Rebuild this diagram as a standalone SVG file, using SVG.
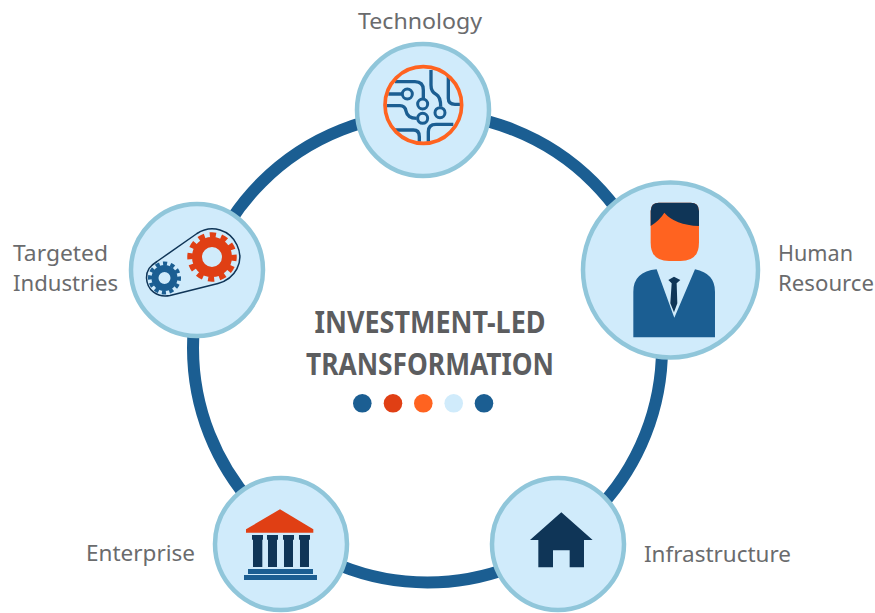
<svg xmlns="http://www.w3.org/2000/svg" width="875" height="613" viewBox="0 0 875 613">
<style>
.n{fill:#d0ebfb;stroke:#90c6da;stroke-width:4.5}
.l{font-family:"Noto Sans","Liberation Sans",sans-serif;font-size:22px;fill:#6a6b6d}
.t{font-family:"Noto Sans","Liberation Sans",sans-serif;font-size:31px;font-weight:700;fill:#5c5d5f;text-anchor:middle}
.tr{fill:none;stroke:#1b5e92;stroke-width:10}
.rg{fill:#d0ebfb;stroke:#1b5e92;stroke-width:9}
</style>
<rect width="875" height="613" fill="#fff"/>
<g id="connectors"><circle cx="427.500" cy="348" r="234.500" fill="none" stroke="#1b5e92" stroke-width="12"/></g>
<g id="technology">
<circle class="n" cx="423" cy="110" r="66"/>
<g transform="translate(350 35) scale(.3333)">
<path class="tr" d="M135,140H195Q220,140 220,165V190M115,177H155M110,212H150Q165,212 168,228Q172,250 200,250M243,105V150Q243,170 258,178Q272,185 272,215M295,125V190Q295,208 315,208H330M135,285H190Q208,285 208,305V320M235,320V290Q235,268 258,268H310"/>
<circle class="rg" cx="172" cy="177" r="15"/><circle class="rg" cx="218" cy="207" r="15"/><circle class="rg" cx="218" cy="250" r="15"/><circle class="rg" cx="270" cy="233" r="15"/>
<circle cx="220" cy="210" r="115" fill="none" stroke="#ff6320" stroke-width="11"/>
</g>
<text class="l" x="358" y="29" textLength="124" lengthAdjust="spacingAndGlyphs">Technology</text>
</g>
<g id="human-resource">
<circle class="n" cx="670.500" cy="270" r="87.500"/>
<g transform="translate(575 175) scale(.3333)">
<path d="M227,108Q227,83 252,83H347Q372,83 372,108V203Q372,258 317,258H282Q227,258 227,203Z" fill="#ff6320"/>
<path d="M227,153V108Q227,83 252,83H347Q372,83 372,108V153Q300,150 268,113Q255,135 227,153Z" fill="#0f3557"/>
<path d="M175,487V350Q175,290 245,283L298,428L360,283Q420,295 420,350V487Z" fill="#1b5e92"/>
<path d="M280,315L297,305L316,315L305,325H290Z M290,325H305L307,385L297,412L286,385Z" fill="#0f3557"/>
</g>
<text class="l" x="778" y="261" textLength="75" lengthAdjust="spacingAndGlyphs">Human</text><text class="l" x="778" y="291" textLength="96" lengthAdjust="spacingAndGlyphs">Resource</text>
</g>
<g id="infrastructure">
<circle class="n" cx="558" cy="544" r="66"/>
<path transform="translate(485 470) scale(.3333)" d="M135,210L229,127L323,210H297V292H254V241H204V292H160V210Z" fill="#0f3557"/>
<text class="l" x="644" y="562" textLength="147" lengthAdjust="spacingAndGlyphs">Infrastructure</text>
</g>
<g id="enterprise">
<circle class="n" cx="281" cy="544" r="66"/>
<g transform="translate(210 470) scale(.3333)">
<path d="M108,178L210,118L310,178V188H108Z" fill="#e03f14"/>
<path d="M126,195H159V209H157V291H129V209H126ZM171,195H204V209H201V291H174V209H171ZM219,195H252V209H249V291H222V209H219ZM267,195H300V209H297V291H270V209H267Z" fill="#0f3557"/>
<path d="M114,297H309V312H114ZM102,315H321V330H102Z" fill="#1b5e92"/>
</g>
<text class="l" x="86" y="561" textLength="109" lengthAdjust="spacingAndGlyphs">Enterprise</text>
</g>
<g id="targeted-industries">
<circle class="n" cx="197" cy="270" r="66"/>
<path d="M197,233.500C212,224 230,230 237,245C245,262 235,279 218,283.500L170,295.500C157,298 147,290 146.500,278C146.500,270 150,266 157,261.500Z" fill="none" stroke="#0f3557" stroke-width="1.500"/>
<circle cx="212" cy="257" r="15" fill="none" stroke="#e03f14" stroke-width="10"/>
<circle cx="212" cy="257" r="22" fill="none" stroke="#e03f14" stroke-width="5.500" pathLength="120" stroke-dasharray="5.500 4.500" stroke-dashoffset="2"/>
<circle cx="164.500" cy="278" r="9.500" fill="none" stroke="#1b5e92" stroke-width="7"/>
<circle cx="164.500" cy="278" r="14.500" fill="none" stroke="#1b5e92" stroke-width="4" pathLength="120" stroke-dasharray="5.500 4.500" stroke-dashoffset="2"/>
<text class="l" x="13" y="261" textLength="95" lengthAdjust="spacingAndGlyphs">Targeted</text><text class="l" x="13" y="291" textLength="105" lengthAdjust="spacingAndGlyphs">Industries</text>
</g>
<g id="title">
<text class="t" x="430" y="333" textLength="231" lengthAdjust="spacingAndGlyphs">INVESTMENT-LED</text>
<text class="t" x="430" y="375" textLength="248" lengthAdjust="spacingAndGlyphs">TRANSFORMATION</text>
<circle cx="362.300" cy="403.300" r="9.300" fill="#1b5e92"/><circle cx="393" cy="403.300" r="9.300" fill="#e03f14"/><circle cx="423.300" cy="403.300" r="9.300" fill="#ff6320"/><circle cx="453.700" cy="403.300" r="9.300" fill="#d0ebfb"/><circle cx="484" cy="403.300" r="9.300" fill="#1b5e92"/>
</g>
</svg>
